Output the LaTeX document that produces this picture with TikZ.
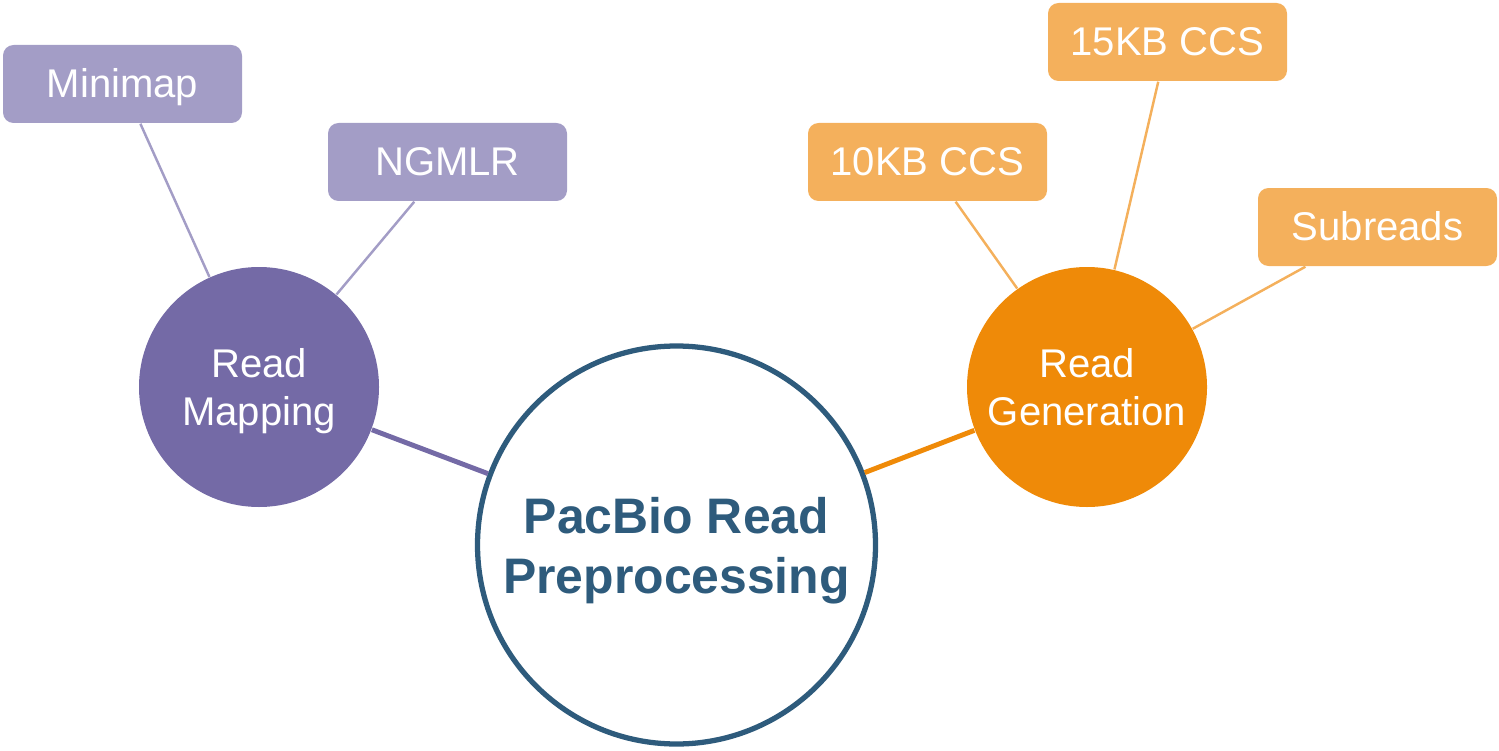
\documentclass[tikz,border=0pt]{standalone}
\usepackage{fontspec}
\setmainfont{Liberation Sans}
\usepackage{xcolor}
\usetikzlibrary{positioning}

\definecolor{hubblue}{HTML}{2E5B7C}
\definecolor{mapdark}{HTML}{746AA6}
\definecolor{maplight}{HTML}{A39DC6}
\definecolor{gendark}{HTML}{EF8A08}
\definecolor{genlight}{HTML}{F4B05C}

\begin{document}
\begin{tikzpicture}[
  hub/.style={circle, draw=hubblue, line width=1.5pt, fill=white, minimum size=3.98cm,
              align=center, text=hubblue, text depth=0pt,
              font=\fontsize{14.2}{17.1}\selectfont\bfseries},
  branch/.style={circle, fill=#1, minimum size=2.4cm, inner sep=0pt, align=center,
                 text=white, text depth=0pt, font=\fontsize{11.4}{13.6}\selectfont},
  leaf/.style={rounded corners=3pt, fill=#1, minimum width=2.39cm, minimum height=0.78cm,
               text=white, text height=0.29cm, text depth=0.02cm,
               font=\fontsize{11.4}{13.6}\selectfont},
  thickline/.style={line width=1.4pt, draw=#1},
  thinline/.style={line width=0.7pt, draw=#1}
]
  \useasboundingbox (0,0) rectangle (14.99,7.5);

  % Nodes
  \node[hub] (main) at (6.765,2.05) {PacBio Read\\Preprocessing};
  \node[branch=mapdark] (mapping) at (2.59,3.63) {Read\\Mapping};
  \node[branch=gendark] (generation) at (10.87,3.63) {Read\\Generation};
  \node[leaf=maplight] (minimap) at (1.225,6.66) {Minimap};
  \node[leaf=maplight] (ngmlr) at (4.475,5.88) {NGMLR};
  \node[leaf=genlight] (ccs10) at (9.275,5.88) {10KB CCS};
  \node[leaf=genlight] (ccs15) at (11.675,7.08) {15KB CCS};
  \node[leaf=genlight] (subreads) at (13.775,5.23) {Subreads};

  % Connectors
  \draw[thickline=mapdark] (mapping) -- (main);
  \draw[thickline=gendark] (generation) -- (main);
  \draw[thinline=maplight] (minimap) -- (mapping);
  \draw[thinline=maplight] (ngmlr) -- (mapping);
  \draw[thinline=genlight] (ccs10) -- (generation);
  \draw[thinline=genlight] (ccs15) -- (generation);
  \draw[thinline=genlight] (subreads) -- (generation);
\end{tikzpicture}
\end{document}
